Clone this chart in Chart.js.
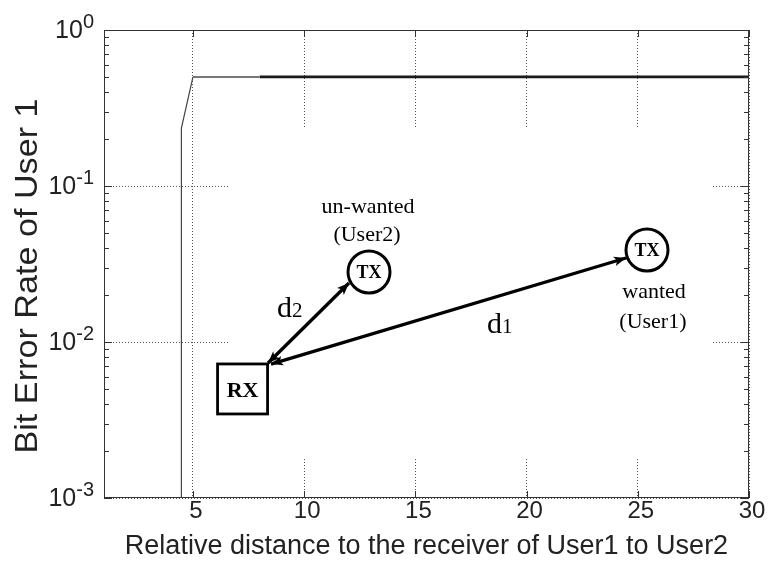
<!DOCTYPE html>
<html lang="en">
<head>
<meta charset="UTF-8">
<title>Bit Error Rate of User 1</title>
<script src="https://cdn.jsdelivr.net/npm/chart.js"></script>
<style>
  html, body { margin: 0; padding: 0; background: #fff; }
</style>
</head>
<body>
<canvas id="berChart" width="772" height="565"></canvas>
<script>
// curve: cliff near x = 4.5, then flat at 0.5
const distLow  = [4.48, 4.48, 5, 8];
const berLow   = [0.001, 0.235, 0.5, 0.5];
const distHigh = [8, 30];
const berHigh  = [0.5, 0.5];

const xTicks   = [5, 10, 15, 20, 25, 30];
const yDecades = [-3, -2, -1, 0];
const yTitle   = 'Bit Error Rate of User 1';

// inset sketch, placed in axis units
const sketchBlank = { x0: 6.575, x1: 28.34, y0: 0.00183, y1: 0.239 };
const rxPos   = { x: 7.23, y: 0.0050 };
const txOther = { x: 12.915, y: 0.0281 };
const txOwn   = { x: 25.414, y: 0.0389 };
const arrowD2 = [[8.374, 0.00733], [12.015, 0.02389]];
const arrowD1 = [[8.509, 0.00722], [24.47, 0.03455]];
const sketchText = [
  { text: 'un-wanted', x: 12.87, y: 0.0671 },
  { text: '(User2)',   x: 12.825, y: 0.04441 },
  { text: 'wanted',    x: 25.73, y: 0.01914 },
  { text: '(User1)',   x: 25.68, y: 0.01229 }
];
const distLabels = [
  { main: 'd', sub: '2', x: 8.778, y: 0.01446 },
  { main: 'd', sub: '1', x: 18.22, y: 0.01142 }
];

const sans  = '"Liberation Sans", Arial, Helvetica, sans-serif';
const serif = '"Liberation Serif", "Times New Roman", serif';

const toPts = (xs, ys) => xs.map((x, i) => ({ x: x, y: ys[i] }));

function arrowHead(ctx, x1, y1, x2, y2) {
  const a = Math.atan2(y2 - y1, x2 - x1);
  const len = 13, spread = 0.38;
  ctx.beginPath();
  ctx.moveTo(x2, y2);
  ctx.lineTo(x2 - len * Math.cos(a - spread), y2 - len * Math.sin(a - spread));
  ctx.lineTo(x2 - len * 0.7 * Math.cos(a), y2 - len * 0.7 * Math.sin(a));
  ctx.lineTo(x2 - len * Math.cos(a + spread), y2 - len * Math.sin(a + spread));
  ctx.closePath();
  ctx.fill();
}

const blankPlugin = {
  id: 'blank',
  beforeDatasetsDraw(chart) {
    const { ctx, scales: { x, y } } = chart;
    const l = x.getPixelForValue(sketchBlank.x0), r = x.getPixelForValue(sketchBlank.x1);
    const t = y.getPixelForValue(sketchBlank.y1), b = y.getPixelForValue(sketchBlank.y0);
    ctx.save();
    ctx.fillStyle = '#fff';
    ctx.fillRect(l, t, r - l, b - t);
    ctx.restore();
  }
};

const framePlugin = {
  id: 'frame',
  afterDraw(chart) {
    const { ctx, chartArea: ca, scales: { x, y } } = chart;
    ctx.save();
    // box
    ctx.strokeStyle = '#333';
    ctx.lineWidth = 1;
    ctx.strokeRect(ca.left + 0.5, ca.top + 0.5, ca.right - ca.left - 1, ca.bottom - ca.top - 1);

    // y ticks, major and minor, both sides
    ctx.beginPath();
    yDecades.forEach(d => {
      for (let m = 1; m <= 9; m++) {
        if (d === 0 && m > 1) break;
        const py = Math.round(y.getPixelForValue(m * Math.pow(10, d))) + 0.5;
        const len = m === 1 ? 8 : 5;
        ctx.moveTo(ca.left, py); ctx.lineTo(ca.left + len, py);
        ctx.moveTo(ca.right, py); ctx.lineTo(ca.right - len, py);
      }
    });
    // x ticks, bottom and top
    xTicks.forEach(v => {
      const px = Math.round(x.getPixelForValue(v)) + 0.5;
      ctx.moveTo(px, ca.bottom); ctx.lineTo(px, ca.bottom - 7);
      ctx.moveTo(px, ca.top); ctx.lineTo(px, ca.top + 7);
    });
    ctx.stroke();

    // tick labels
    ctx.fillStyle = '#222';
    ctx.textBaseline = 'alphabetic';
    ctx.font = '24px ' + sans;
    ctx.textAlign = 'center';
    xTicks.forEach(v => {
      ctx.fillText(String(v), x.getPixelForValue(v) + 3, ca.bottom + 20);
    });
    const labelRight = ca.left - 10;
    yDecades.forEach(d => {
      const py = y.getPixelForValue(Math.pow(10, d));
      const exp = String(d);
      ctx.font = '20px ' + sans;
      const ew = ctx.measureText(exp).width;
      ctx.font = '25px ' + sans;
      const bw = ctx.measureText('10').width;
      ctx.textAlign = 'left';
      ctx.fillText('10', labelRight - ew - bw, py + 8);
      ctx.font = '20px ' + sans;
      ctx.fillText(exp, labelRight - ew, py - 2);
    });

    // y axis title, drawn by hand so it can be stretched like the original
    ctx.save();
    ctx.translate(37, 276);
    ctx.rotate(-Math.PI / 2);
    ctx.font = '31px ' + sans;
    ctx.textAlign = 'center';
    const tw = ctx.measureText(yTitle).width;
    ctx.scale(355 / tw, 1);
    ctx.fillText(yTitle, 0, 0);
    ctx.restore();

    // inset sketch
    ctx.strokeStyle = '#000';
    ctx.fillStyle = '#000';
    ctx.lineWidth = 3.3;
    ctx.lineCap = 'butt';
    [arrowD2, arrowD1].forEach(a => {
      const x1 = x.getPixelForValue(a[0][0]), y1 = y.getPixelForValue(a[0][1]);
      const x2 = x.getPixelForValue(a[1][0]), y2 = y.getPixelForValue(a[1][1]);
      ctx.beginPath(); ctx.moveTo(x1, y1); ctx.lineTo(x2, y2); ctx.stroke();
      arrowHead(ctx, x1, y1, x2, y2);
      arrowHead(ctx, x2, y2, x1, y1);
    });

    const rx = x.getPixelForValue(rxPos.x), ry = y.getPixelForValue(rxPos.y);
    ctx.lineWidth = 2.8;
    ctx.fillStyle = '#fff';
    ctx.fillRect(rx - 25, ry - 25, 50, 50);
    ctx.strokeRect(rx - 25, ry - 25, 50, 50);
    ctx.fillStyle = '#000';
    ctx.textAlign = 'center';
    ctx.textBaseline = 'middle';
    ctx.font = 'bold 22px ' + serif;
    ctx.fillText('RX', rx, ry + 2);

    ctx.lineWidth = 3;
    [txOther, txOwn].forEach(t => {
      const cx = x.getPixelForValue(t.x), cy = y.getPixelForValue(t.y);
      ctx.beginPath();
      ctx.arc(cx, cy, 21, 0, Math.PI * 2);
      ctx.fillStyle = '#fff';
      ctx.fill();
      ctx.stroke();
      ctx.fillStyle = '#000';
      ctx.font = 'bold 18px ' + serif;
      ctx.fillText('TX', cx, cy + 1);
    });

    ctx.textBaseline = 'alphabetic';
    ctx.font = '22px ' + serif;
    sketchText.forEach(s => {
      ctx.fillText(s.text, x.getPixelForValue(s.x), y.getPixelForValue(s.y));
    });

    ctx.textAlign = 'left';
    distLabels.forEach(s => {
      const px = x.getPixelForValue(s.x), py = y.getPixelForValue(s.y);
      ctx.font = '30px ' + serif;
      ctx.fillText(s.main, px, py);
      const w = ctx.measureText(s.main).width;
      ctx.font = '21px ' + serif;
      ctx.fillText(s.sub, px + w, py);
    });
    ctx.restore();
  }
};

const ctx = document.getElementById('berChart').getContext('2d');
const berChart = new Chart(ctx, {
  type: 'line',
  data: {
    datasets: [
      {
        data: toPts(distLow, berLow),
        borderColor: '#555',
        borderWidth: 1.2,
        segment: {
          borderWidth: c => c.p0DataIndex >= 2 ? 2 : 1.2,
          borderColor: c => c.p0DataIndex >= 2 ? '#777' : '#444'
        },
        pointRadius: 0,
        tension: 0
      },
      {
        data: toPts(distHigh, berHigh),
        borderColor: '#1a1a1a',
        borderWidth: 2.8,
        pointRadius: 0,
        tension: 0
      }
    ]
  },
  options: {
    responsive: false,
    animation: false,
    devicePixelRatio: 1,
    layout: { padding: { top: 30, right: 23, left: 0, bottom: 0 } },
    plugins: { legend: { display: false }, tooltip: { enabled: false } },
    scales: {
      x: {
        type: 'linear',
        min: 1,
        max: 30,
        afterBuildTicks: s => { s.ticks = xTicks.map(v => ({ value: v })); },
        afterFit: s => { s.height = 67; },
        ticks: { display: false },
        grid: { color: '#555', drawTicks: false, lineWidth: 1 },
        border: { display: false, dash: [1, 2] },
        title: {
          display: true,
          text: 'Relative distance to the receiver of User1 to User2',
          font: { family: sans, size: 27 },
          color: '#222',
          padding: { top: 0, bottom: 2 }
        }
      },
      y: {
        type: 'logarithmic',
        min: 0.001,
        max: 1,
        afterBuildTicks: s => { s.ticks = yDecades.map(d => ({ value: Math.pow(10, d) })); },
        afterFit: s => { s.width = 104; },
        ticks: { display: false },
        grid: { color: '#555', drawTicks: false, lineWidth: 1 },
        border: { display: false, dash: [1, 2] },
        title: { display: false }
      }
    }
  },
  plugins: [blankPlugin, framePlugin]
});
</script>
</body>
</html>
